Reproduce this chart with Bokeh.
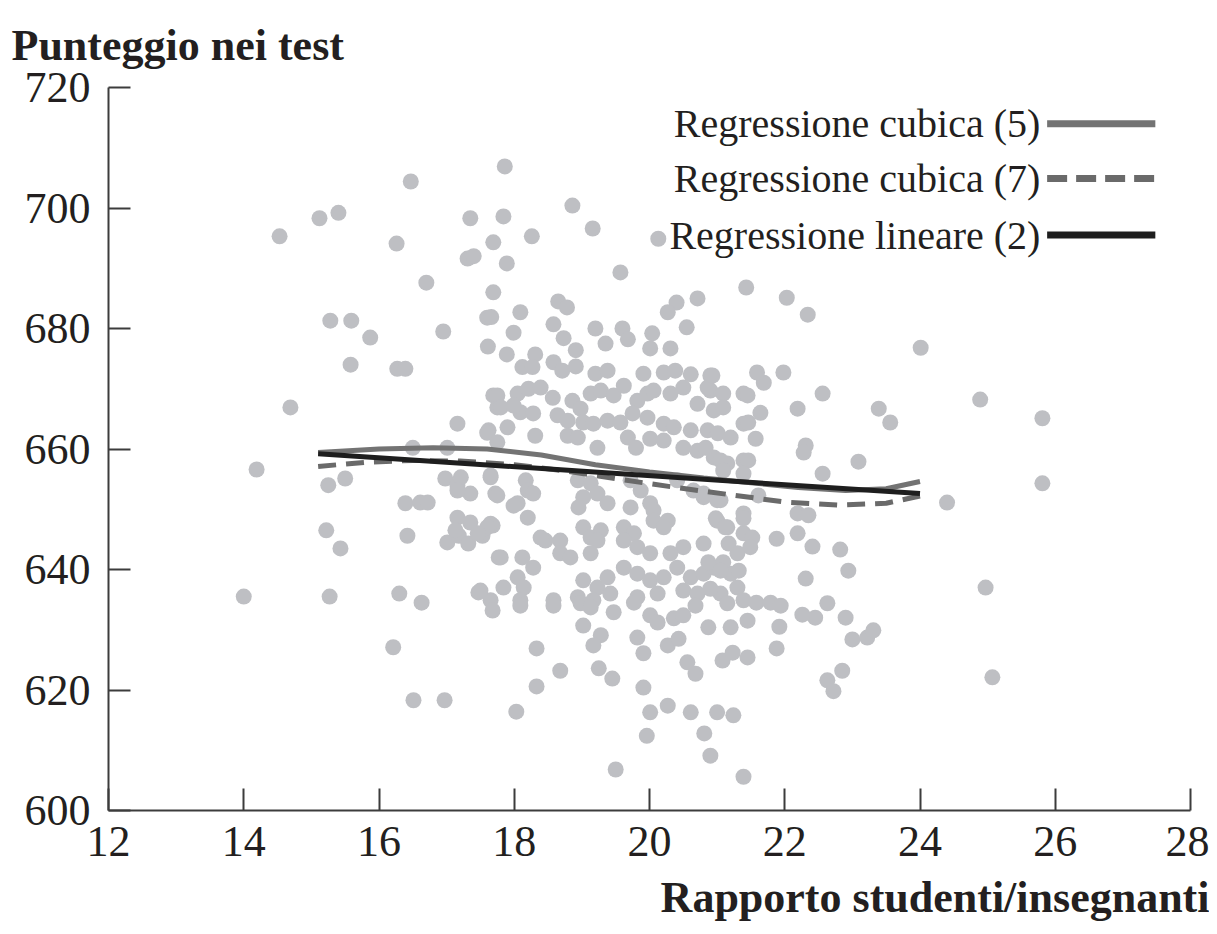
from bokeh.plotting import figure
from bokeh.models import Range1d, FixedTicker, Title
from bokeh.embed import file_html
from bokeh.resources import INLINE
from bokeh.core.properties import value

# ---- data ----
points = [
 (14.00,635.5),(14.19,656.6),(14.53,695.3),(14.69,666.9),(15.12,698.3),(15.40,699.2),(15.28,681.3),(15.59,681.3),
 (15.58,674.0),(15.87,678.5),(15.25,654.0),(15.50,655.1),(15.22,646.5),(15.43,643.5),(15.27,635.5),(16.26,694.1),
 (16.47,704.4),(16.27,673.3),(16.39,673.3),(16.70,687.6),(16.21,627.1),(16.30,636.0),(16.63,634.5),(16.42,645.6),
 (16.39,651.0),(16.61,651.1),(16.72,651.1),(16.51,618.3),(16.97,618.3),(16.95,679.5),(16.50,660.2),(17.01,660.2),
 (16.98,655.1),(17.16,653.9),(17.35,652.6),(17.16,648.6),(17.35,647.8),(17.68,647.3),(17.01,644.5),(17.18,645.6),
 (17.32,644.3),(17.53,645.6),(17.65,647.6),(17.62,663.1),(17.69,668.9),(17.75,666.9),(17.65,655.6),(17.72,652.6),
 (17.77,642.0),(17.47,636.2),(17.65,634.9),(17.35,698.3),(17.69,694.3),(17.31,691.6),(17.40,692.0),(17.69,686.0),
 (17.60,681.8),(17.66,681.9),(17.61,677.0),(17.86,706.9),(17.84,698.6),(17.89,690.8),(18.86,700.4),(18.26,695.3),
 (19.16,696.6),(20.13,694.9),(19.57,689.3),(21.43,686.8),(20.40,684.3),(20.71,685.0),(20.27,682.7),(20.55,680.2),
 (18.65,684.5),(18.78,683.5),(18.09,682.7),(17.99,679.3),(18.58,680.7),(18.73,678.4),(18.91,676.4),(19.20,680.0),
 (19.35,677.5),(19.60,680.0),(19.68,678.2),(20.04,679.2),(20.01,676.7),(20.31,676.7),(17.89,675.7),(18.31,675.7),
 (18.58,674.4),(18.12,673.6),(18.27,673.6),(18.71,673.0),(18.91,673.7),(19.20,672.5),(19.38,673.0),(19.91,672.5),
 (20.21,672.7),(20.38,673.0),(20.61,672.4),(20.90,672.2),
 (17.75,668.9),(18.05,669.2),(18.21,670.0),(18.39,670.2),(18.57,668.5),(17.80,666.9),(18.09,666.1),(17.99,667.2),
 (18.64,665.6),(18.86,668.0),(18.98,666.7),(19.13,669.2),(19.28,669.7),(19.47,668.9),(19.62,670.5),(19.82,668.0),
 (19.97,669.2),(20.06,669.7),(20.31,669.2),(20.50,670.2),(20.71,667.5),(20.90,669.7),(21.09,669.2),(21.39,669.2),
 (20.95,666.4),(21.09,666.9),(18.79,664.7),(19.02,664.4),(19.17,664.2),(19.38,664.7),(19.57,664.4),(19.75,665.9),
 (19.97,665.2),(20.21,664.2),(20.36,663.6),(20.61,663.1),(20.86,663.1),(21.01,662.6),(21.20,661.9),(21.39,664.2),
 (17.60,662.7),(17.90,663.6),(18.31,662.2),(18.79,662.2),(18.94,661.9),(19.23,660.2),(19.68,661.9),(19.80,660.2),
 (20.01,661.7),(20.21,661.4),(20.50,660.2),(20.71,659.7),(20.95,658.6),(21.15,657.6),(21.39,658.1),(17.75,661.1),
 (17.21,655.3),(17.65,655.3),(18.17,654.8),(17.16,653.1),(17.75,652.3),(18.20,653.1),(18.05,651.0),(18.28,652.6),
 (17.99,650.6),(18.20,648.6),(17.60,647.0),(17.13,646.5),(17.46,646.0),(18.94,654.8),(19.13,654.3),(19.02,652.0),
 (18.95,650.3),(19.23,652.6),(19.38,651.0),(19.72,654.8),(19.87,653.1),(19.72,650.3),(20.01,651.0),(20.06,649.8),
 (20.27,648.1),(20.41,654.8),(20.65,653.1),(20.80,652.6),(21.00,651.5),(21.00,648.1),(21.15,647.0),(21.39,649.3),
 (21.39,646.0),(19.02,647.0),(19.13,645.3),(19.28,646.5),(19.62,647.0),(19.77,646.0),(20.06,648.1),(20.21,647.0),
 (19.62,644.8),(19.82,643.7),(20.01,642.7),(19.23,644.8),(19.13,642.7),(18.68,644.8),(18.68,642.7),(18.83,642.0),
 (18.46,644.8),(18.39,645.3),(17.80,642.0),(18.12,642.0),(18.28,640.3),(18.05,638.7),(17.84,637.0),(17.50,636.5),
 (18.14,637.0),(18.58,634.9),(19.02,638.2),(19.23,637.0),(19.38,638.7),(19.62,640.3),(19.82,639.3),(20.01,638.2),
 (20.21,638.7),(20.41,640.3),(20.61,638.7),(20.80,639.3),(20.95,640.3),(21.20,639.3),(21.30,642.7),(20.80,644.3),
 (20.50,643.7),(20.31,642.7),(18.94,635.4),(19.17,634.9),(19.42,636.0),(19.82,635.4),(20.12,636.0),(20.50,636.5),
 (20.71,636.0),(21.05,636.0),(21.30,637.0),(21.39,634.9),(18.09,634.9),(17.16,664.2),(18.28,665.9),
 (17.68,633.2),(18.09,634.0),(18.58,634.0),(18.98,634.4),(19.13,633.7),(19.47,632.9),(19.77,634.5),(20.01,632.4),
 (20.12,631.2),(20.36,631.9),(20.50,632.4),(20.68,634.0),(20.87,630.4),(21.20,630.4),(21.15,634.4),(21.45,631.5),
 (19.02,630.7),(19.28,629.1),(19.17,627.4),(19.82,628.7),(19.91,626.1),(20.27,627.4),(20.43,628.5),(20.56,624.6),
 (20.68,622.7),(21.08,624.9),(21.23,626.2),(21.45,625.4),(18.33,626.9),(18.68,623.2),(19.25,623.6),(19.45,621.9),
 (18.33,620.6),(18.03,616.4),(19.91,620.4),(20.01,616.3),(20.27,617.4),(20.61,616.3),(21.00,616.3),(21.24,615.8),
 (19.96,612.4),(20.81,612.8),(20.90,609.1),(19.50,606.8),(21.39,605.6),
 (20.86,670.2),(21.45,668.9),(21.69,671.0),(22.19,666.7),(22.56,669.2),(23.39,666.7),(23.56,664.4),(24.89,668.2),
 (25.81,665.1),(21.46,664.4),(21.64,666.0),(21.57,661.7),(21.46,658.1),(22.31,660.6),(22.28,659.4),(23.09,657.9),
 (22.56,655.9),(20.83,660.2),(21.05,658.1),(21.09,656.4),(21.39,655.9),(20.80,652.0),(21.05,651.5),(21.61,652.3),
 (24.40,651.1),(25.81,654.3),(22.19,649.3),(22.35,649.0),(20.98,648.5),(21.39,648.5),(21.12,647.0),(21.52,645.3),
 (21.17,644.3),(21.49,643.7),(21.88,645.1),(22.19,646.0),(22.41,643.8),(22.82,643.3),(20.87,641.2),(21.09,641.2),
 (21.05,639.8),(21.32,639.8),(22.94,639.8),(22.31,638.5),(24.97,637.0),(20.90,636.8),(21.58,634.5),(21.79,634.5),
 (21.94,634.0),(22.63,634.4),(20.93,672.2),(21.59,672.7),(21.98,672.7),(22.03,685.1),(22.34,682.3),(24.01,676.8),
 (22.63,621.6),(22.72,619.8),(22.85,623.2),(23.00,628.4),(23.22,628.7),(23.31,629.9),(22.90,632.0),(22.45,632.0),
 (22.26,632.5),(21.92,630.5),(21.88,626.9),(25.07,622.1),
]
str_ratio = [pt[0] for pt in points]
test_score = [pt[1] for pt in points]

cubic5_x = [15.1, 16.0, 16.8, 17.6, 18.4, 19.2, 20.0, 20.8, 21.5, 22.2, 22.9, 23.5, 24.0]
cubic5_y = [659.4, 660.0, 660.2, 660.0, 659.0, 657.4, 656.2, 655.2, 654.4, 653.6, 653.1, 653.4, 654.6]
cubic7_x = [15.1, 15.8, 16.5, 17.2, 18.0, 18.8, 19.6, 20.4, 21.2, 22.0, 22.8, 23.5, 24.0]
cubic7_y = [657.1, 657.8, 658.1, 658.0, 657.4, 656.3, 654.9, 653.6, 652.4, 651.2, 650.7, 651.0, 652.2]
linear_x = [15.1, 24.0]
linear_y = [659.2, 652.6]

x_ticks = [12, 14, 16, 18, 20, 22, 24, 26, 28]
y_ticks = [600, 620, 640, 660, 680, 700, 720]
legend_labels = ["Regressione cubica (5)", "Regressione cubica (7)", "Regressione lineare (2)"]
y_title = "Punteggio nei test"
x_title = "Rapporto studenti/insegnanti"

SERIF = "Liberation Serif"
TXT = "#231f20"

p = figure(width=1209, height=934, x_range=Range1d(12, 28), y_range=Range1d(600, 720),
           output_backend="svg", toolbar_location=None,
           min_border_left=108, min_border_right=19, min_border_top=87, min_border_bottom=124)
p.outline_line_color = None
p.grid.visible = False
p.background_fill_color = "white"

p.title.text = y_title
p.title.text_font = SERIF
p.title.text_font_size = "44px"
p.title.text_font_style = "bold"
p.title.text_color = TXT
p.title.align = "left"
p.title.offset = -97
p.title.standoff = 36
p.title.text_line_height = 1.0

xt = Title(text=x_title, align="right", text_font=SERIF, text_font_size="44px",
           text_font_style="bold", text_color=TXT, offset=-19, standoff=25, text_line_height=1.0)
p.add_layout(xt, "below")

for ax, ticks in ((p.xaxis[0], x_ticks), (p.yaxis[0], y_ticks)):
    ax.ticker = FixedTicker(ticks=ticks)
    ax.major_tick_in = 22
    ax.major_tick_out = 0
    ax.minor_tick_line_color = None
    ax.axis_line_color = "#3c3c3c"
    ax.axis_line_width = 2
    ax.major_tick_line_color = "#3c3c3c"
    ax.major_tick_line_width = 2
    ax.major_label_text_font = SERIF
    ax.major_label_text_font_size = "44px"
    ax.major_label_text_color = TXT
p.xaxis.major_label_standoff = 16
p.yaxis.major_label_standoff = 18

p.scatter(str_ratio, test_score, size=16, color="#bebfc3", line_color=None)

p.line(cubic5_x, cubic5_y, line_color="#737373", line_width=5)
p.line(cubic7_x, cubic7_y, line_color="#6a6a6a", line_width=5, line_dash="18 10")
p.line(linear_x, linear_y, line_color="#1e1e1e", line_width=5)

# legend drawn by hand: text then line sample
ly = [714.0, 704.9, 695.5]
p.text(x=[25.78] * 3, y=ly, text=legend_labels, text_align="right", text_baseline="middle",
       text_font=value(SERIF), text_font_size="40px", text_color=TXT)
p.line([25.88, 27.48], [ly[0], ly[0]], line_color="#737373", line_width=7)
p.line([25.88, 27.48], [ly[1], ly[1]], line_color="#6a6a6a", line_width=7, line_dash="20 9")
p.line([25.88, 27.48], [ly[2], ly[2]], line_color="#1e1e1e", line_width=7)

open("out.html", "w").write(file_html(p, INLINE))
